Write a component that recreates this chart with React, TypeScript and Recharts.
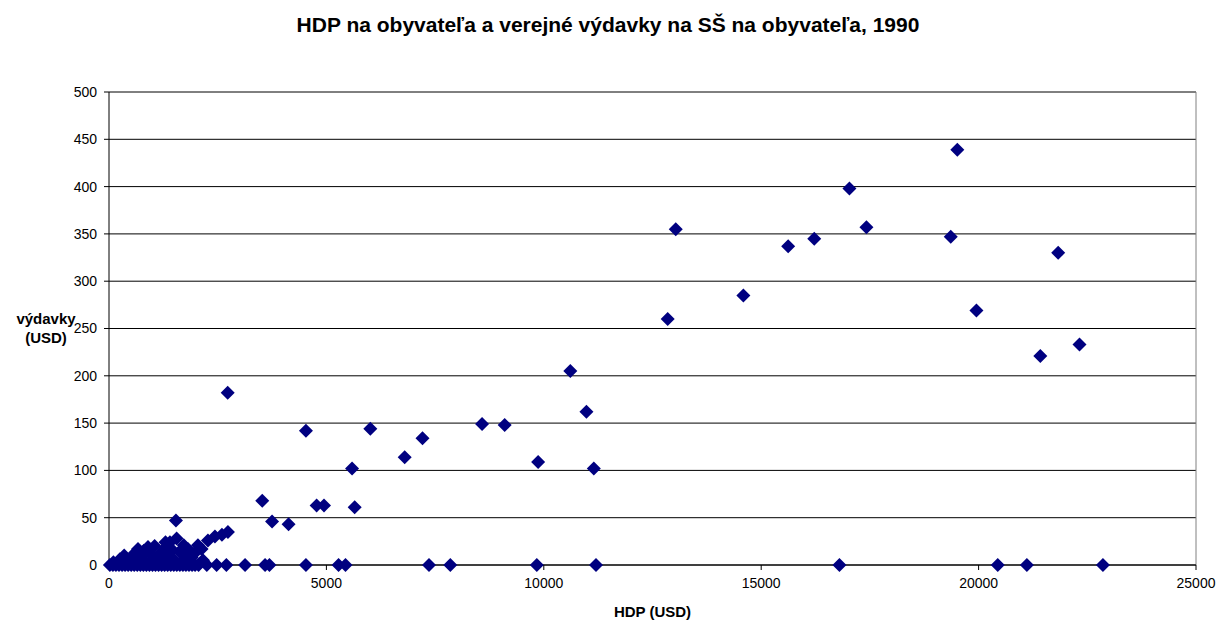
import { ScatterChart, Scatter, XAxis, YAxis, CartesianGrid, ReferenceLine } from 'recharts'

// HDP na obyvateľa (USD), 1990
const gdpHigh = [13035, 12850, 14590, 15620, 16220, 17030, 17420, 19510, 19360, 19950, 21830, 21420, 22320]
const spendHigh = [355, 260, 285, 337, 345, 398, 357, 439, 347, 269, 330, 221, 233]

const gdpMid = [10610, 10980, 8580, 9100, 9870, 11150, 4530, 6010, 7210, 6800, 5590, 3525, 4775, 4945, 5650, 3750, 4130, 2730, 1540]
const spendMid = [205, 162, 149, 148, 109, 102, 142, 144, 134, 114, 102, 68, 63, 63, 61, 46, 43, 182, 47]

// krajiny s nulovými výdavkami
const gdpZero = [
  16800, 20440, 21110, 22860, 11200, 9840, 7850, 7360, 5440, 5280, 4530, 3690, 3590, 3130, 2700, 2475, 2250,
  20, 90, 160, 230, 300, 370, 440, 510, 580, 650, 720, 790, 860, 930, 1000, 1070, 1140, 1210, 1280, 1350,
  1420, 1490, 1560, 1630, 1700, 1770, 1840, 1910, 1980, 2060,
]

const gdpLow = [
  437, 667, 897, 1218, 1402, 1556, 1816, 2046, 2129, 2276, 2437, 2598, 2736,
  100, 250, 350, 450, 550, 600, 720, 780, 850, 960, 1020, 1100, 1160, 1260, 1320, 1360, 1480, 1620, 1700,
  1720, 1760, 1900, 1980, 2160, 1450, 1300, 1050, 800,
]
const spendLow = [
  5, 17, 19, 14, 24, 28, 17, 21, 17, 26, 30, 32, 35,
  3, 6, 10, 4, 9, 13, 6, 11, 3, 12, 7, 5, 10, 3, 19, 9, 6, 14, 5,
  21, 10, 8, 13, 5, 16, 24, 20, 15,
]

const xTicks = [0, 5000, 10000, 15000, 20000, 25000]
const yTicks = [0, 50, 100, 150, 200, 250, 300, 350, 400, 450, 500]

const data = [
  ...gdpHigh.map((x, i) => ({ x, y: spendHigh[i] })),
  ...gdpMid.map((x, i) => ({ x, y: spendMid[i] })),
  ...gdpZero.map((x) => ({ x, y: 0 })),
  ...gdpLow.map((x, i) => ({ x, y: spendLow[i] })),
]

const font = '"Liberation Sans", Arial, sans-serif'

const Diamond = (props: any) => {
  const { cx, cy } = props
  const r = 7
  return <polygon points={`${cx},${cy - r} ${cx + r},${cy} ${cx},${cy + r} ${cx - r},${cy}`} fill="#000080" />
}

const XLabel = ({ viewBox }: any) => (
  <text x={viewBox.x + viewBox.width / 2} y={viewBox.y + 52} textAnchor="middle" fontSize={15} fontWeight="bold" fontFamily={font} fill="#000">
    HDP (USD)
  </text>
)

const YLabel = ({ viewBox }: any) => (
  <text x={46} y={viewBox.y + viewBox.height / 2} textAnchor="middle" fontSize={15} fontWeight="bold" fontFamily={font} fill="#000">
    <tspan x={46} dy={-5}>výdavky</tspan>
    <tspan x={46} dy={19}>(USD)</tspan>
  </text>
)

export default function App() {
  return (
    <div style={{ position: 'absolute', left: 0, top: 0, width: 1216, height: 623, background: '#fff', fontFamily: font }}>
      <div style={{ position: 'absolute', left: 0, top: 12, width: 1216, textAlign: 'center', fontSize: 21, lineHeight: '26px', fontWeight: 'bold', color: '#000' }}>
        HDP na obyvateľa a verejné výdavky na SŠ na obyvateľa, 1990
      </div>
      <ScatterChart width={1216} height={623} margin={{ top: 92, right: 20, bottom: 28, left: 69 }}>
        <CartesianGrid vertical={false} stroke="#000" strokeDasharray="" />
        <ReferenceLine y={500} stroke="#808080" />
        <ReferenceLine x={25000} stroke="#808080" />
        <XAxis
          type="number"
          dataKey="x"
          domain={[0, 25000]}
          ticks={xTicks}
          height={30}
          tickSize={5}
          tickMargin={8}
          tick={{ fontSize: 14, fill: '#000', fontFamily: font }}
          axisLine={{ stroke: '#000' }}
          tickLine={{ stroke: '#000' }}
          label={<XLabel />}
        />
        <YAxis
          type="number"
          dataKey="y"
          domain={[0, 500]}
          ticks={yTicks}
          width={40}
          tickSize={5}
          tickMargin={7}
          tick={{ fontSize: 14, fill: '#000', fontFamily: font }}
          axisLine={{ stroke: '#000' }}
          tickLine={{ stroke: '#000' }}
          label={<YLabel />}
        />
        <Scatter data={data} shape={<Diamond />} isAnimationActive={false} />
      </ScatterChart>
    </div>
  )
}
